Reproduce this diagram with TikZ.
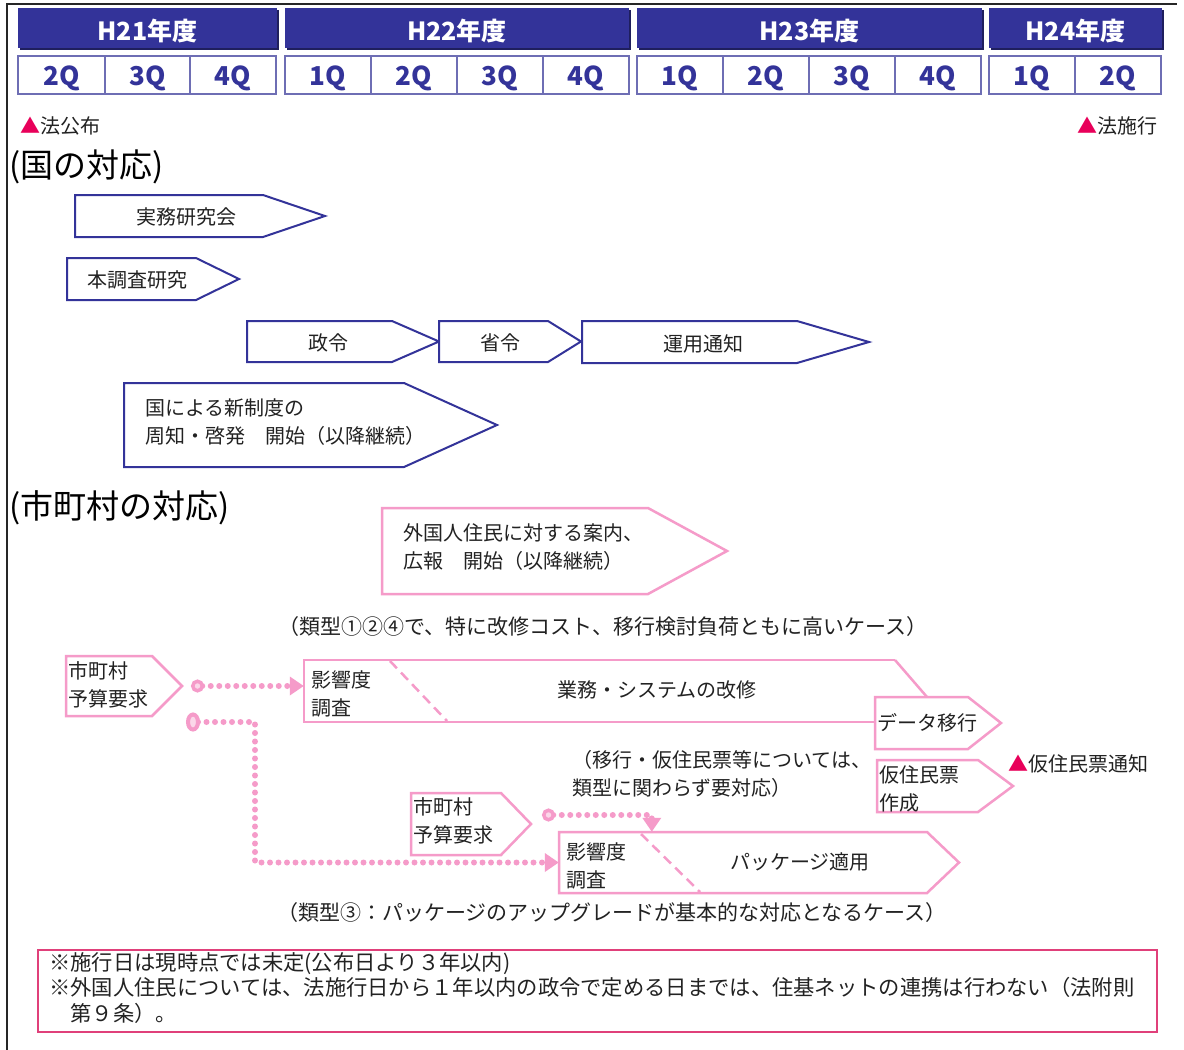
\documentclass[tikz,border=0pt]{standalone}
\usepackage{fontspec}
\setmainfont{Noto Sans CJK JP}
\usetikzlibrary{arrows.meta,fit}
\definecolor{navy}{HTML}{333399}
\definecolor{navyd}{HTML}{1F1F5E}
\definecolor{qline}{HTML}{6E6EB4}
\definecolor{pk}{HTML}{F59BC9}
\definecolor{mag}{HTML}{E8005A}
\definecolor{notebd}{HTML}{E0407A}
\definecolor{txt}{HTML}{222222}
\newcommand\mytag[7]{%
  \draw[#1] (#3,#4) -- (#5,#4) -- (#7,{(#4+#6)/2}) -- (#5,#6) -- (#3,#6) -- cycle;
  \node[fit={(#3,#4)(#7,#6)}, inner sep=0pt] (#2) {};
}
\tikzset{
  bluebox/.style={draw=navy, line width=2pt, fill=white},
  pinkbox/.style={draw=pk, line width=2.5pt, fill=white},
  pkdash/.style={draw=pk, line width=2.5pt, dash pattern=on 10pt off 6pt},
  lbl/.style={inner sep=0pt, text=txt, font=\fontsize{20}{28}\selectfont},
  lbll/.style={lbl, anchor=west, align=left},
  biglbl/.style={lbl, font=\fontsize{21}{28}\selectfont},
  title/.style={inner sep=0pt, anchor=west, text=black, font=\fontsize{33}{36}\selectfont},
  yeartext/.style={inner sep=0pt, text=white, font=\fontsize{25}{30}\selectfont\bfseries},
  qtext/.style={inner sep=0pt, text=navy, font=\fontsize{26}{30}\selectfont\bfseries},
  dotconn/.style={draw=pk, line width=6pt, line cap=round, dash pattern=on 0pt off 8.5pt},
  notetext/.style={inner sep=0pt, anchor=west, text=txt, font=\fontsize{21.3}{26}\selectfont},
}
\begin{document}
\begin{tikzpicture}[x=1pt,y=-1pt]
\useasboundingbox (0,0) rectangle (1184,1050);
\fill[white] (0,0) rectangle (1184,1050);
% frame
\draw[black!85, line width=2pt] (7,1050) -- (7,4) -- (1177,4);
% year header
\foreach \a/\b/\t [count=\i] in {18/277/H21年度, 285/629/H22年度, 637/982/H23年度, 989/1162/H24年度}{
  \fill[navyd] (\a+2,10) rectangle (\b+2,50);
  \fill[navy] (\a,8) rectangle (\b,48);
  \node[yeartext] (yr\i) at ({(\a+\b)/2},31) {\t};
}
% quarters
\foreach \a/\b/\t [count=\i] in {18/105/2Q, 105/190/3Q, 190/276/4Q, 285/371/1Q, 371/457/2Q, 457/543/3Q, 543/629/4Q, 637/723/1Q, 723/809/2Q, 809/895/3Q, 895/981/4Q, 989/1075/1Q, 1075/1161/2Q}{
  \draw[qline, line width=1.5pt] (\a,56) rectangle (\b,94);
  \node[qtext] (q\i) at ({(\a+\b)/2},78) {\t};
}
\node[lbl, anchor=west] (kofu) at (20,126) {\textcolor{mag}{▲}法公布};
\node[lbl, anchor=east] (seko) at (1158,126) {\textcolor{mag}{▲}法施行};
% national
\node[title] (kuni) at (9,167) {(国の対応)};
\mytag{bluebox}{jimu}{75}{195}{263}{237}{325}
\node[lbl] (tjimu) at (186,217) {実務研究会};
\mytag{bluebox}{honchosa}{67}{258}{196}{300}{239}
\node[lbl] (thon) at (137,280) {本調査研究};
\mytag{bluebox}{seirei}{247}{321}{392}{362}{439}
\node[lbl] (tsei) at (328,343) {政令};
\mytag{bluebox}{shorei}{439}{321}{548}{362}{581}
\node[lbl] (tsho) at (500,343) {省令};
\mytag{bluebox}{unyo}{582}{321}{797}{363}{869}
\node[lbl] (tun) at (703,344) {運用通知};
\mytag{bluebox}{shuchi}{124}{383}{404}{467}{497}
\node[lbll] (tshu) at (145,422) {国による新制度の\\周知・啓発　開始（以降継続）};
% municipal
\node[title] (shi) at (9,508) {(市町村の対応)};
\mytag{pinkbox}{annai}{382}{508}{648}{594}{727}
\node[lbll] (tann) at (403,547) {外国人住民に対する案内、\\広報　開始（以降継続）};
\node[biglbl] (rui1) at (603,627) {（類型①②④で、特に改修コスト、移行検討負荷ともに高いケース）};
\mytag{pinkbox}{yosan1}{66}{656}{152}{716}{182}
\node[lbll] (tyo1) at (68,685) {市町村\\予算要求};
% big arrow
\draw[pinkbox] (895,660) -- (304,660) -- (304,722) -- (875,722);
\draw[draw=pk, line width=2.5pt] (895,660) -- (927,697);
\node[fit={(304,660)(927,722)}, inner sep=0pt] (kaishu) {};
\draw[pkdash] (390,661) -- (447,721);
\node[lbll] (teik1) at (311,694) {影響度\\調査};
\node[lbl] (tgyo) at (657,690) {業務・システムの改修};
\mytag{pinkbox}{data}{875}{697}{968}{749}{1001}
\node[lbl, anchor=west] (tdata) at (877,723) {データ移行};
\mytag{pinkbox}{karisaku}{877}{760}{978}{812}{1013}
\node[lbll] (tkari) at (879,789) {仮住民票\\作成};
\node[lbl, anchor=west] (tsuchi) at (1008,764) {\textcolor{mag}{▲}仮住民票通知};
\node[lbll] (tiko) at (572,774) {（移行・仮住民票等については、\\類型に関わらず要対応）};
\mytag{pinkbox}{yosan2}{411}{793}{501}{855}{531}
\node[lbll] (tyo2) at (413,821) {市町村\\予算要求};
\mytag{pinkbox}{pkg}{559}{832}{927}{893}{959}
\draw[pkdash] (641,834) -- (700,892);
\node[lbll] (teik2) at (566,866) {影響度\\調査};
\node[lbl] (tpkg) at (800,862) {パッケージ適用};
\node[biglbl] (rui2) at (612,913) {（類型③：パッケージのアップグレードが基本的な対応となるケース）};
% connectors
\coordinate (c1s) at (191,686);
\coordinate (c2s) at (186,722);
\coordinate (c3s) at (542,815);
\draw[dotconn, {Circle[open, fill=pk!40, length=13pt, line width=3.5pt]}-{Triangle[length=14pt,width=18pt]}] (c1s) -- (c1s -| kaishu.west);
\draw[dotconn, {Circle[open, fill=pk!40, length=14pt, width=19pt, line width=4pt]}-{Triangle[length=14pt,width=18pt]}] (c2s) -- ++(69,0) |- (pkg.west);
\draw[dotconn, {Circle[open, fill=pk!40, length=13pt, line width=3.5pt]}-{Triangle[length=14pt,width=18pt]}] (c3s) -| ([xshift=93pt]pkg.north west);
% note
\node[draw=notebd, line width=1.2pt, fit={(38,950)(1157,1032)}, inner sep=0pt] (notebox) {};
\node[notetext] (n1) at (49,964) {※施行日は現時点では未定(公布日より３年以内)};
\node[notetext] (n2) at (49,987) {※外国人住民については、法施行日から１年以内の政令で定める日までは、住基ネットの連携は行わない（法附則};
\node[notetext] (n3) at (49,1013) {　第９条）。};
\end{tikzpicture}
\end{document}
